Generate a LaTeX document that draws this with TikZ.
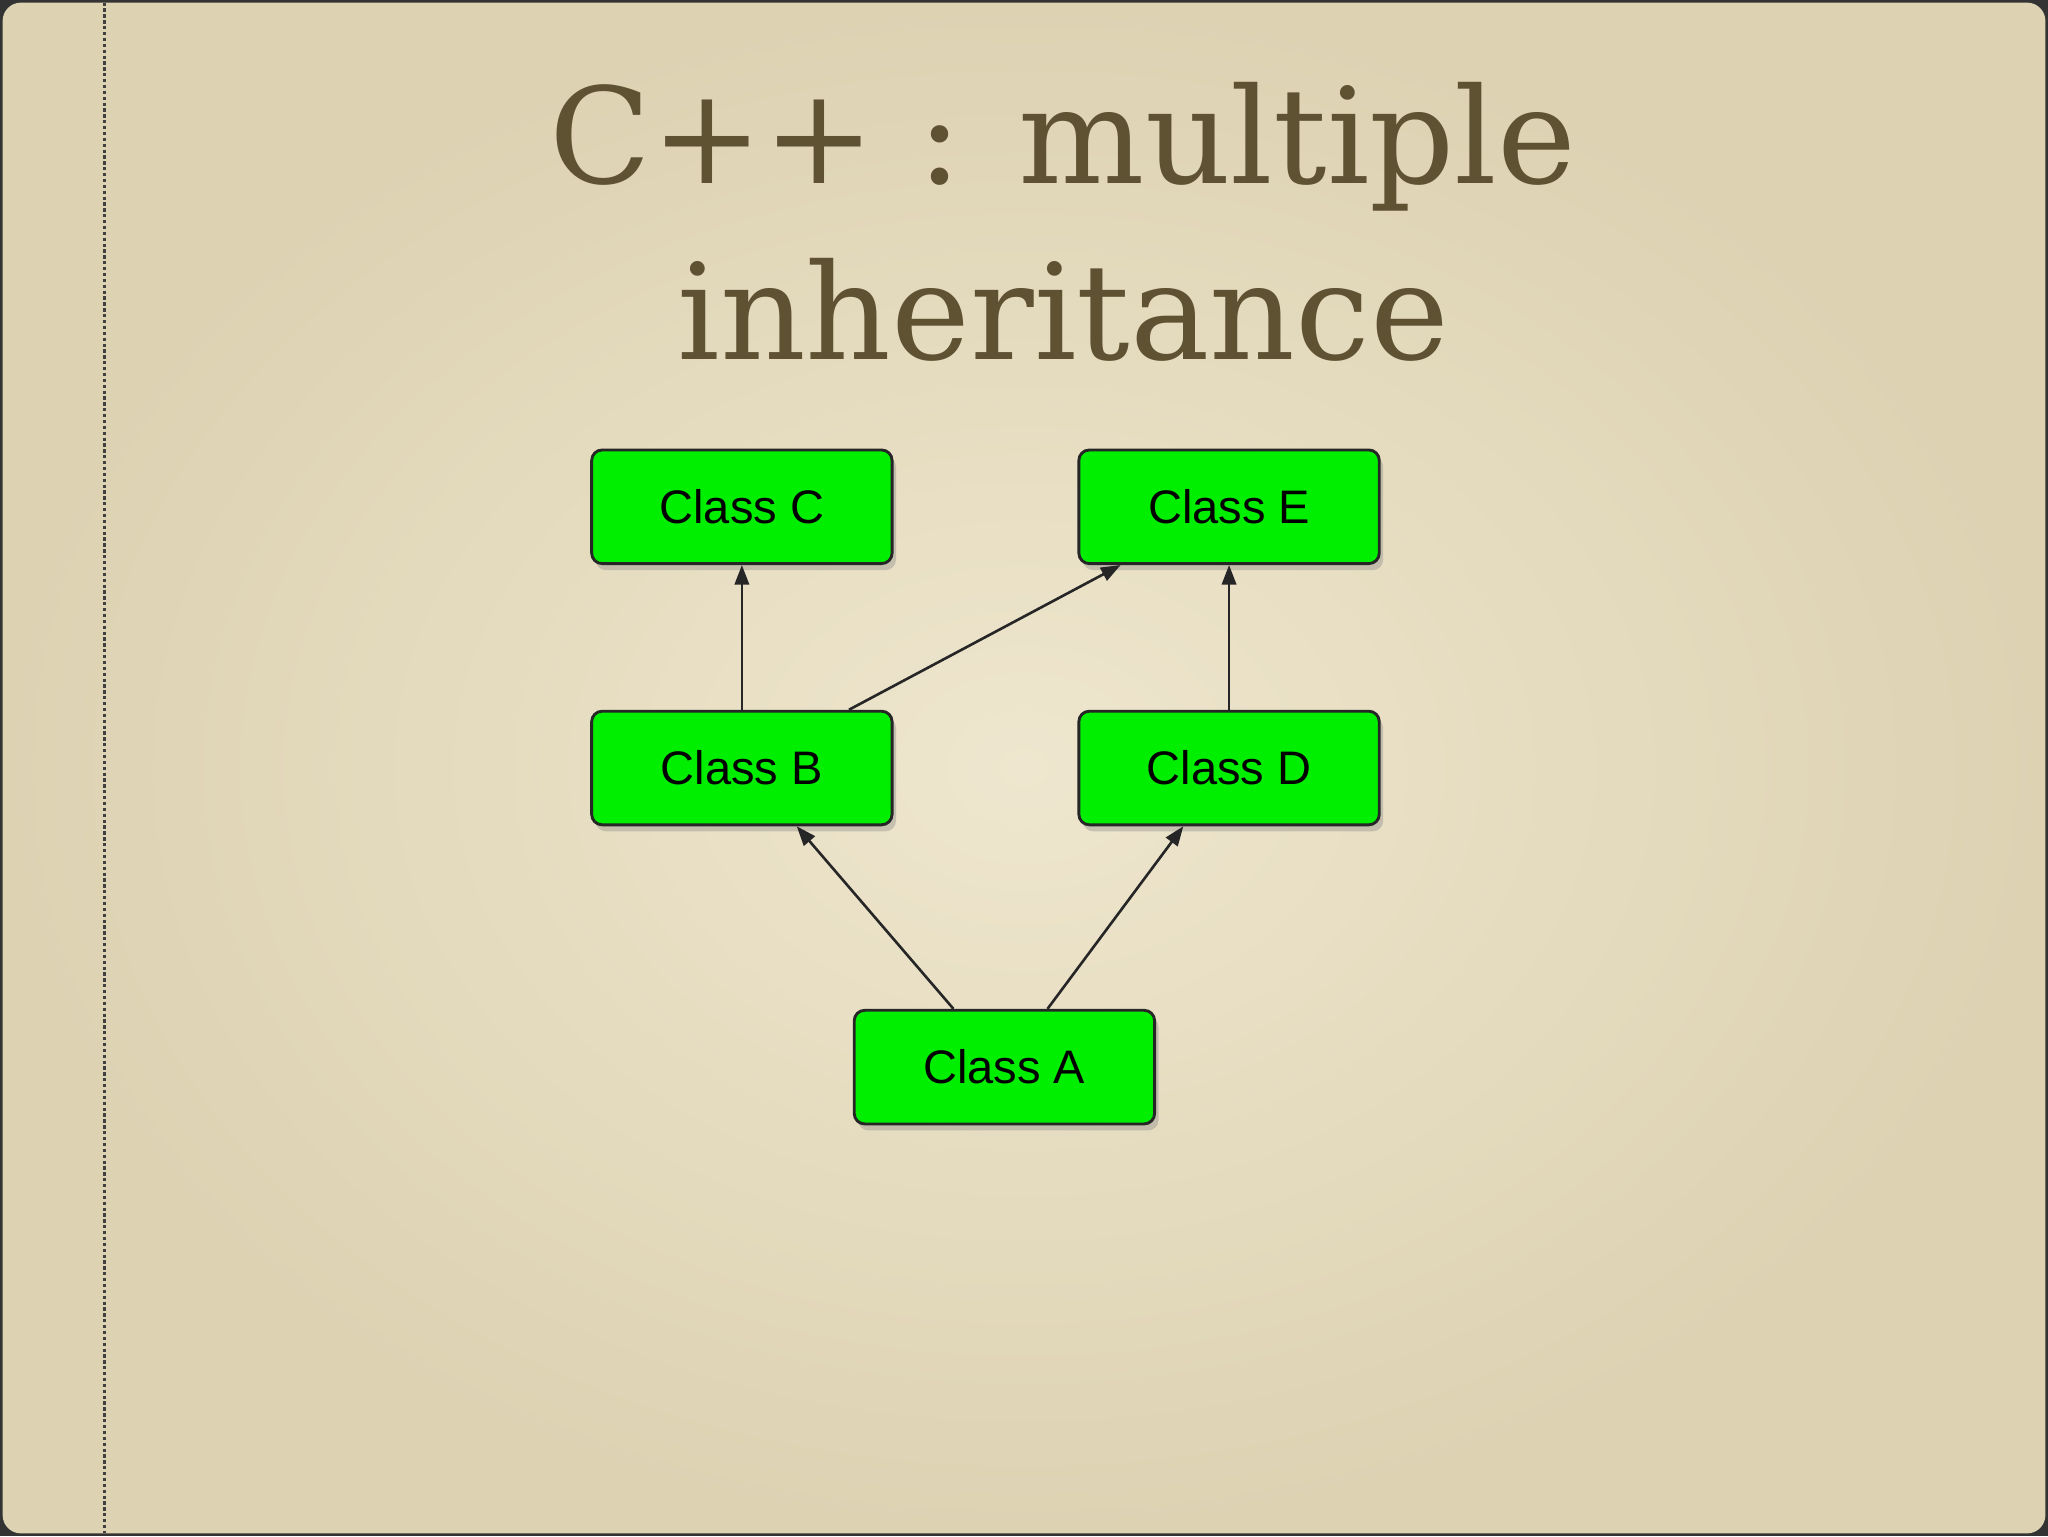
\documentclass[tikz,border=0pt]{standalone}
\usepackage{fontspec}
\setmainfont{DejaVu Serif}
\newfontfamily\boxfont{Liberation Sans}
\usetikzlibrary{arrows.meta,shadows}
\definecolor{paper}{HTML}{EEE6CE}
\definecolor{paperdark}{HTML}{DDD2B2}
\definecolor{titlec}{HTML}{5E5232}
\definecolor{boxg}{HTML}{00EE00}
\tikzset{
  cls/.style={draw=black!85,line width=2.2pt,fill=boxg,rounded corners=8pt,minimum width=230pt,minimum height=87pt,
    font=\boxfont\fontsize{36}{36}\selectfont,drop shadow={shadow xshift=3pt,shadow yshift=-5pt,opacity=0.35}},
  inh/.style={draw=black!85,line width=2pt,-{Triangle[length=15pt,width=11pt]}}
}
\begin{document}
\begin{tikzpicture}[x=1pt,y=-1pt]
\useasboundingbox (0,0) rectangle (1568,1176);
\fill[black!80] (0,0) rectangle (1568,1176);
\shade[inner color=paper,outer color=paperdark,rounded corners=14pt] (2,2) rectangle (1566,1174);
\draw[black!75,line width=2.5pt,dotted] (80,2) -- (80,1174);
\node[titlec,font=\fontsize{102}{135}\selectfont,align=center] (title) at (814,170) {C++ : multiple\\inheritance};
\node[cls] (C) at (568,388) {Class C};
\node[cls] (E) at (941,388) {Class E};
\node[cls] (B) at (568,588) {Class B};
\node[cls] (D) at (941,588) {Class D};
\node[cls] (A) at (769,817) {Class A};
\draw[inh] (B.north) -- (C.south);
\draw[inh] ([xshift=82pt]B.north) -- ([xshift=-83pt]E.south);
\draw[inh] (D.north) -- (E.south);
\draw[inh] ([xshift=-39pt]A.north) -- ([xshift=42pt]B.south);
\draw[inh] ([xshift=33pt]A.north) -- ([xshift=-35pt]D.south);
\end{tikzpicture}
\end{document}
